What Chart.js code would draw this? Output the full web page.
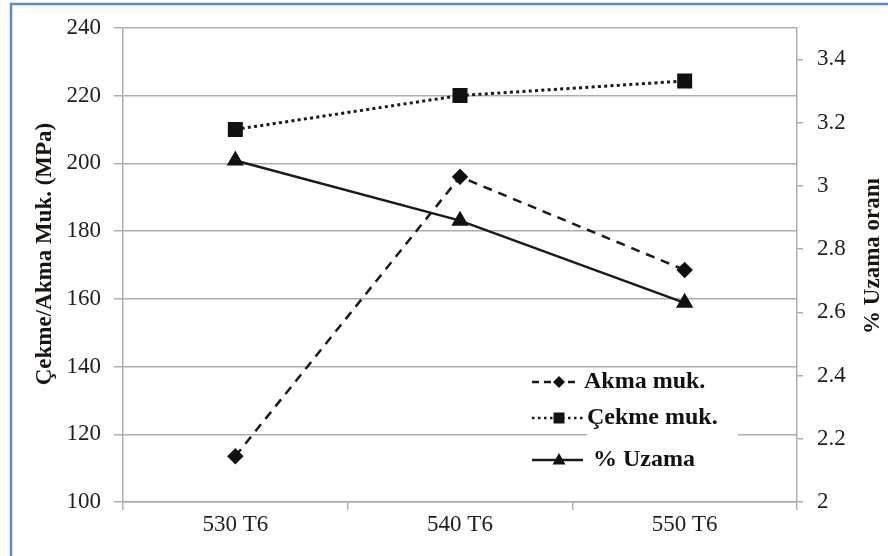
<!DOCTYPE html>
<html>
<head>
<meta charset="utf-8">
<script src="https://cdn.jsdelivr.net/npm/chart.js@4/dist/chart.umd.min.js"></script>
<style>
  html, body { margin: 0; padding: 0; background: #fff; }
  #wrap { width: 888px; height: 556px; position: relative; }
</style>
</head>
<body>
<div id="wrap"><canvas id="c" width="888" height="556"></canvas></div>
<script>
// ---- Data ----
const categories = ['530 T6', '540 T6', '550 T6'];
const akmaMuk = [113.5, 196, 168.5];      // MPa, left axis
const cekmeMuk = [210, 220, 224.3];       // MPa, left axis
const uzama = [3.08, 2.89, 2.63];         // %, right axis
const leftTicks = [100, 120, 140, 160, 180, 200, 220, 240];
const rightTicks = [2, 2.2, 2.4, 2.6, 2.8, 3, 3.2, 3.4];
const seriesNames = ['Akma muk.', 'Çekme muk.', '% Uzama'];
const leftTitle = 'Çekme/Akma Muk. (MPa)';
const rightTitle = '% Uzama oranı';

const SERIF = '"Liberation Serif", "Times New Roman", serif';
const GRID = '#ADADAD';
const INK = '#111';
const TICK = '#1e1e1e';

const framePlugin = {
  id: 'frame',
  beforeDraw(chart) {
    const ctx = chart.ctx;
    ctx.save();
    ctx.fillStyle = '#fff';
    ctx.fillRect(0, 0, chart.width, chart.height);
    ctx.strokeStyle = '#5B8BD2';
    ctx.lineWidth = 2.5;
    ctx.beginPath();
    ctx.moveTo(11, chart.height);
    ctx.lineTo(11, 4);
    ctx.lineTo(chart.width, 4);
    ctx.stroke();
    ctx.restore();
  },
  afterDraw(chart) {
    const ctx = chart.ctx;
    ctx.save();
    ctx.fillStyle = '#1a1410';
    ctx.font = 'bold 23px ' + SERIF;
    ctx.textAlign = 'center';
    ctx.textBaseline = 'middle';
    ctx.translate(45, 254);
    ctx.rotate(-Math.PI / 2);
    ctx.fillText(leftTitle, 0, 0);
    ctx.restore();

    ctx.save();
    ctx.fillStyle = '#1a1410';
    ctx.font = 'bold 23px ' + SERIF;
    ctx.textAlign = 'center';
    ctx.textBaseline = 'middle';
    ctx.translate(873, 256);
    ctx.rotate(-Math.PI / 2);
    ctx.fillText(rightTitle, 0, 0);
    ctx.restore();

    // legend
    ctx.save();
    ctx.fillStyle = '#fff';
    ctx.fillRect(587, 369, 151, 108);
    const entries = [
      { y: 382, x0: 532, x1: 575, dash: [7, 5], marker: 'diamond', tx: 584 },
      { y: 418, x0: 532, x1: 585, dash: [2.5, 3.5], marker: 'square', tx: 587 },
      { y: 460, x0: 532, x1: 583, dash: [], marker: 'triangle', tx: 593 }
    ];
    entries.forEach((e, i) => {
      ctx.strokeStyle = '#1a1a1a';
      ctx.lineWidth = 2.5;
      ctx.setLineDash(e.dash);
      ctx.beginPath();
      ctx.moveTo(e.x0, e.y);
      ctx.lineTo(e.x1, e.y);
      ctx.stroke();
      ctx.setLineDash([]);
      ctx.fillStyle = '#111';
      const mx = 559, my = e.y;
      ctx.beginPath();
      if (e.marker === 'diamond') {
        ctx.moveTo(mx, my - 6); ctx.lineTo(mx + 6, my); ctx.lineTo(mx, my + 6); ctx.lineTo(mx - 6, my); ctx.closePath();
      } else if (e.marker === 'square') {
        ctx.rect(mx - 5.5, my - 5.5, 11, 11);
      } else {
        ctx.moveTo(mx, my - 7); ctx.lineTo(mx + 6.5, my + 4.5); ctx.lineTo(mx - 6.5, my + 4.5); ctx.closePath();
      }
      ctx.fill();
      ctx.fillStyle = INK;
      ctx.font = 'bold 24px ' + SERIF;
      ctx.textAlign = 'left';
      ctx.textBaseline = 'middle';
      ctx.fillText(seriesNames[i], e.tx, e.y);
    });
    ctx.restore();
  }
};

new Chart(document.getElementById('c'), {
  type: 'line',
  data: {
    labels: categories,
    datasets: [
      {
        label: seriesNames[0], data: akmaMuk, yAxisID: 'y',
        borderColor: '#1a1a1a', backgroundColor: '#111', borderWidth: 2.5,
        borderDash: [9, 7], pointStyle: 'rectRot', pointRadius: 6.5,
        pointBackgroundColor: '#111', pointBorderColor: '#111', tension: 0
      },
      {
        label: seriesNames[1], data: cekmeMuk, yAxisID: 'y',
        borderColor: '#1a1a1a', backgroundColor: '#111', borderWidth: 3,
        borderDash: [3, 3.3], pointStyle: 'rect', pointRadius: 8.5,
        pointBackgroundColor: '#111', pointBorderColor: '#111', tension: 0
      },
      {
        label: seriesNames[2], data: uzama, yAxisID: 'y1',
        borderColor: '#1a1a1a', backgroundColor: '#111', borderWidth: 2.5,
        pointStyle: 'triangle', pointRadius: 7.5,
        pointBackgroundColor: '#111', pointBorderColor: '#111', tension: 0
      }
    ]
  },
  options: {
    responsive: false,
    animation: false,
    devicePixelRatio: 1,
    layout: { padding: { top: 24, left: 0, right: 0, bottom: 0 } },
    plugins: { legend: { display: false }, tooltip: { enabled: false }, title: { display: false } },
    scales: {
      x: {
        type: 'category',
        offset: true,
        grid: { display: true, drawOnChartArea: false, drawTicks: true, tickLength: 8, color: GRID, lineWidth: 1.5, offset: true },
        border: { display: true, color: GRID, width: 1.5 },
        ticks: { color: TICK, font: { family: SERIF, size: 23 }, padding: 1 },
        afterFit(s) { s.height = 54; }
      },
      y: {
        position: 'left',
        min: 100, max: 240,
        afterBuildTicks(s) { s.ticks = leftTicks.map(v => ({ value: v })); },
        grid: { color: GRID, lineWidth: 1.5, tickLength: 9 },
        border: { display: true, color: GRID, width: 1.5 },
        ticks: { color: TICK, font: { family: SERIF, size: 23 }, padding: 13 },
        afterFit(s) { s.width = 123; }
      },
      y1: {
        position: 'right',
        min: 2, max: 3.5,
        afterBuildTicks(s) { s.ticks = rightTicks.map(v => ({ value: v })); },
        grid: { drawOnChartArea: false, color: GRID, lineWidth: 1.5, tickLength: 6 },
        border: { display: true, color: GRID, width: 1.5 },
        ticks: { color: TICK, font: { family: SERIF, size: 23 }, padding: 14,
          callback: (v) => String(+Number(v).toFixed(1)) },
        afterFit(s) { s.width = 91; }
      }
    }
  },
  plugins: [framePlugin]
});
</script>
</body>
</html>
